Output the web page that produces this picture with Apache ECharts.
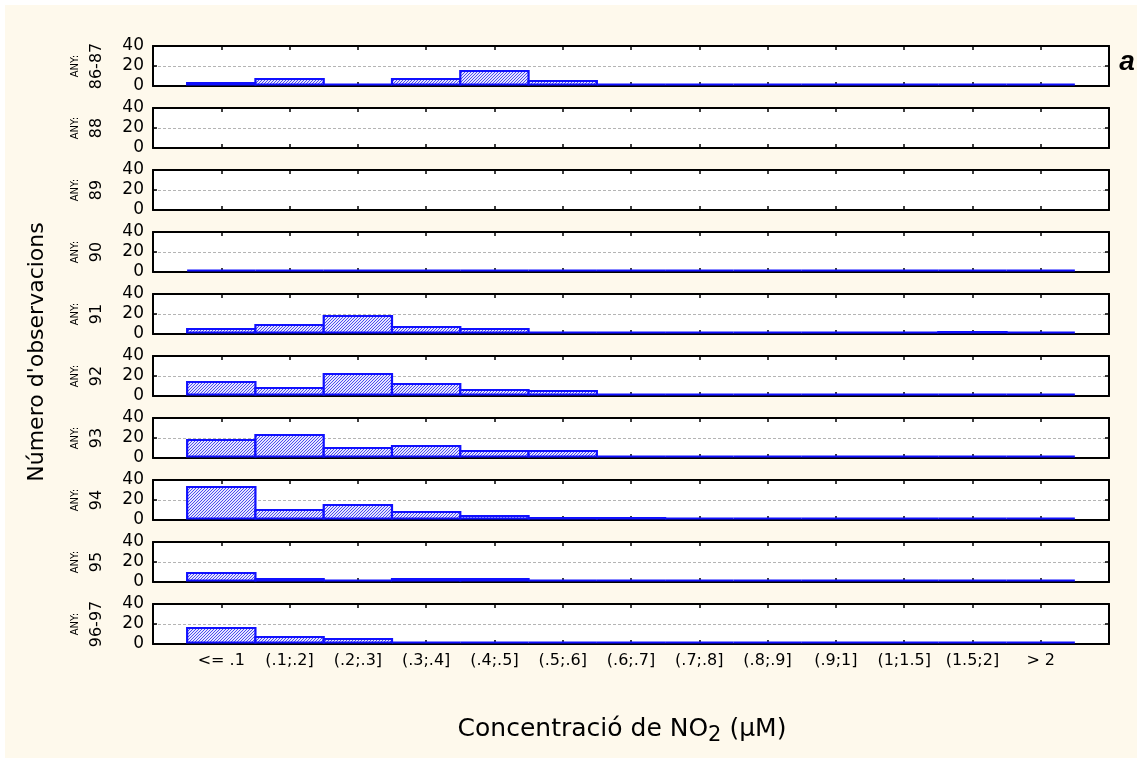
<!DOCTYPE html>
<html>
<head>
<meta charset="utf-8">
<script src="https://cdn.jsdelivr.net/npm/echarts@6/dist/echarts.min.js"></script>
<style>
html,body{margin:0;padding:0;background:#ffffff;}
#chart{width:1137px;height:758px;}
</style>
</head>
<body>
<div id="chart"></div>
<script>
// ---- data ----
const categories = ['<= .1','(.1;.2]','(.2;.3]','(.3;.4]','(.4;.5]','(.5;.6]','(.6;.7]','(.7;.8]','(.8;.9]','(.9;1]','(1;1.5]','(1.5;2]','> 2'];
const years = ['86-87','88','89','90','91','92','93','94','95','96-97'];
const y8687 = [3, 7, 0, 7, 15, 5, 0, 0, 0, 0, 0, 0, 0];
const y88   = [];
const y89   = [];
const y90   = [0, 0, 0, 0, 0, 0, 0, 0, 0, 0, 0, 0, 0];
const y91   = [5, 9, 18, 7, 5, 0, 0, 0, 0, 0, 0, 2, 0];
const y92   = [14, 8, 22, 12, 6, 5, 0, 0, 0, 0, 0, 0, 0];
const y93   = [18, 23, 10, 12, 7, 7, 0, 0, 0, 0, 0, 0, 0];
const y94   = [33, 10, 15, 8, 4, 2, 2, 0, 0, 0, 0, 0, 0];
const y95   = [9, 3, 0, 3, 3, 0, 0, 0, 0, 0, 0, 0, 0];
const y9697 = [16, 7, 5, 0, 0, 0, 0, 0, 0, 0, 0, 0, 0];
const yearData = [y8687, y88, y89, y90, y91, y92, y93, y94, y95, y9697];
const yMax = 40;
const yStep = 20;

// ---- styles ----
const FONT = 'DejaVu Sans';
const GRID_LEFT = 153, GRID_W = 956, GRID_TOP0 = 46, GRID_H = 40, GRID_STEP = 62;

// hatch pattern
const pc = document.createElement('canvas');
pc.width = 3; pc.height = 3;
const pctx = pc.getContext('2d');
pctx.fillStyle = '#e4e4ff'; pctx.fillRect(0, 0, 3, 3);
pctx.fillStyle = '#4c4cee';
for (let i = 0; i < 3; i++) pctx.fillRect(2 - i, i, 1, 1);
const hatch = { image: pc, repeat: 'repeat' };

const chart = echarts.init(document.getElementById('chart'), null, { renderer: 'canvas' });

const frameLine = { show: true, onZero: false, lineStyle: { color: '#000', width: 2 } };
const inTick = { show: true, inside: true, length: 4, lineStyle: { color: '#000', width: 1.5 } };

const grids = [], xAxes = [], yAxes = [], series = [];
years.forEach((yr, k) => {
  const last = k === years.length - 1;
  grids.push({
    left: GRID_LEFT, width: GRID_W, top: GRID_TOP0 + k * GRID_STEP, height: GRID_H,
    show: true, backgroundColor: '#ffffff', borderWidth: 0
  });
  xAxes.push({
    gridIndex: k, type: 'value', min: -1, max: categories.length, interval: 1, position: 'bottom',
    axisLine: frameLine, axisTick: inTick, splitLine: { show: false },
    axisLabel: {
      show: last, color: '#000', fontFamily: FONT, fontSize: 16, margin: 9,
      formatter: v => (categories[v] !== undefined ? categories[v] : '')
    }
  });
  xAxes.push({
    gridIndex: k, type: 'value', min: -1, max: categories.length, interval: 1, position: 'top',
    axisLine: frameLine, axisTick: inTick, splitLine: { show: false }, axisLabel: { show: false }
  });
  yAxes.push({
    gridIndex: k, type: 'value', min: 0, max: yMax, interval: yStep, position: 'left',
    name: '{a|ANY:}\n{b|' + yr + '}', nameLocation: 'middle', nameRotate: 90, nameGap: 44,
    nameTextStyle: {
      color: '#000', fontFamily: FONT,
      rich: {
        a: { fontSize: 10, lineHeight: 20, fontFamily: FONT, color: '#000' },
        b: { fontSize: 16, lineHeight: 24, fontFamily: FONT, color: '#000' }
      }
    },
    axisLine: frameLine, axisTick: inTick,
    splitLine: { show: true, lineStyle: { color: '#b4b4b4', type: [3, 2], width: 1 } },
    axisLabel: { color: '#000', fontFamily: FONT, fontSize: 17, margin: 9 }
  });
  yAxes.push({
    gridIndex: k, type: 'value', min: 0, max: yMax, interval: yStep, position: 'right',
    axisLine: frameLine, axisTick: inTick, splitLine: { show: false }, axisLabel: { show: false }
  });
  series.push({
    type: 'custom',
    xAxisIndex: 2 * k, yAxisIndex: 2 * k,
    data: yearData[k].map((v, i) => [i, v]),
    z: 5,
    renderItem: (params, api) => {
      const i = api.value(0), v = api.value(1);
      const pTop = api.coord([i - 0.5, v]);
      const pBot = api.coord([i + 0.5, 0]);
      const yb = pBot[1] - 1.5;
      return {
        type: 'rect',
        shape: { x: pTop[0], y: Math.min(pTop[1], yb), width: pBot[0] - pTop[0], height: Math.max(0, yb - pTop[1]) },
        style: { fill: hatch, stroke: '#1010ff', lineWidth: 2.2 }
      };
    }
  });
});

const option = {
  backgroundColor: '#ffffff',
  animation: false,
  grid: grids,
  xAxis: xAxes,
  yAxis: yAxes,
  series: series,
  graphic: [
    { type: 'rect', z: -10, silent: true, shape: { x: 5, y: 5, width: 1132, height: 753 }, style: { fill: '#fef9ec' } },
    {
      type: 'text', x: 37, y: 352, rotation: Math.PI / 2,
      style: { text: "Número d'observacions", fontFamily: FONT, fontSize: 22, fill: '#000', align: 'center', verticalAlign: 'middle' }
    },
    {
      type: 'text', x: 622, y: 729,
      style: {
        text: '{t|Concentració de NO}{s|2}{t| (µM)}', align: 'center', verticalAlign: 'middle',
        rich: {
          t: { fontFamily: FONT, fontSize: 25, fill: '#000', color: '#000' },
          s: { fontFamily: FONT, fontSize: 21, fill: '#000', color: '#000', padding: [13, 0, 0, 0] }
        }
      }
    },
    {
      type: 'text', x: 1127, y: 62,
      style: { text: 'a', fontFamily: 'Liberation Sans', fontWeight: 'bold', fontStyle: 'italic', fontSize: 28, fill: '#000', align: 'center', verticalAlign: 'middle' }
    }
  ]
};
chart.setOption(option);
</script>
</body>
</html>
